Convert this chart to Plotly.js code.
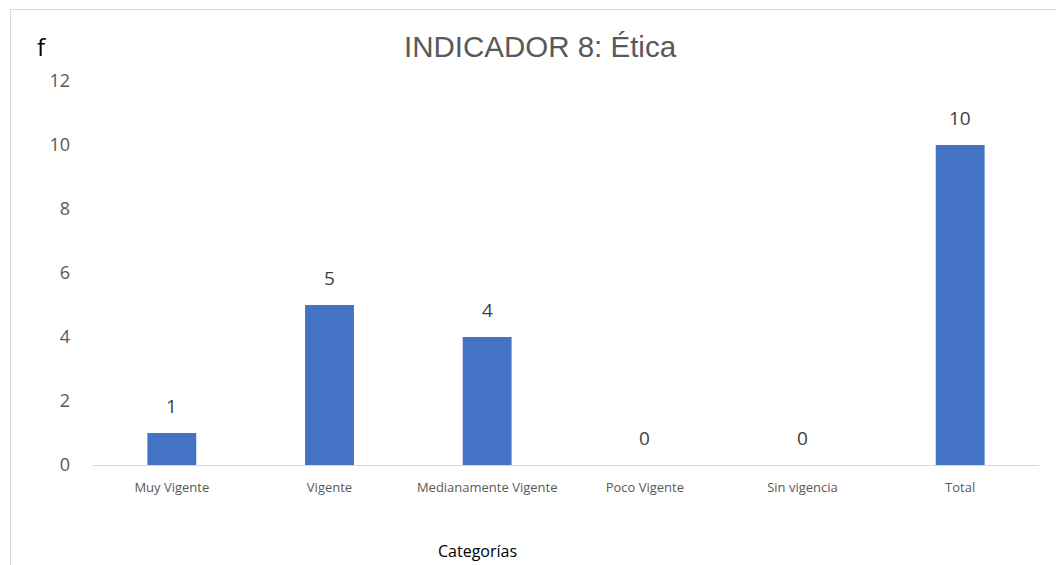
<!DOCTYPE html>
<html>
<head>
<meta charset="utf-8">
<script src="https://cdn.plot.ly/plotly-3.0.1.min.js"></script>
<style>html,body{margin:0;padding:0;background:#fff;}#chart{width:1056px;height:565px;}</style>
</head>
<body>
<div id="chart"></div>
<script>
const categories = ["Muy Vigente", "Vigente", "Medianamente Vigente", "Poco Vigente", "Sin vigencia", "Total"];
const values = [1, 5, 4, 0, 0, 10];
const yTicks = [0, 2, 4, 6, 8, 10, 12];
const chartTitle = "INDICADOR 8: Ética";
const yLabel = "f";
const xLabel = "Categorías";

const W = 1056, H = 565;
const ml = 93, mr = 17, mt = 81, mb = 100;
const pw = W - ml - mr, ph = H - mt - mb;
const px = v => (v - ml) / pw;
const py = v => 1 - (v - mt) / ph;

const trace = {
  type: "bar",
  x: categories,
  y: values,
  marker: {color: "#4472C4"},
  width: 0.31,
  hoverinfo: "x+y"
};

const labelAnns = categories.map((c, i) => ({
  x: c, y: values[i], xref: "x", yref: "y",
  text: String(values[i]), showarrow: false,
  yanchor: "bottom", yshift: 12,
  font: {family: "Open Sans, Noto Sans, sans-serif", size: 19, color: "#404040"}
}));

const layout = {
  width: W, height: H,
  margin: {l: ml, r: mr, t: mt, b: mb},
  paper_bgcolor: "#ffffff",
  plot_bgcolor: "#ffffff",
  showlegend: false,
  title: {
    text: chartTitle,
    xref: "container", yref: "container",
    x: 540 / W, y: 1 - 47 / H, xanchor: "center", yanchor: "middle",
    font: {family: "Liberation Sans, Arial, sans-serif", size: 29.5, color: "#595959"}
  },
  xaxis: {
    type: "category",
    showgrid: false, zeroline: false,
    showline: true, linecolor: "#d9d9d9", linewidth: 1,
    ticks: "", ticklen: 0,
    ticklabelstandoff: 10,
    tickfont: {family: "Open Sans, Noto Sans, sans-serif", size: 13, color: "#595959"},
    automargin: false
  },
  yaxis: {
    range: [0, 12],
    tickvals: yTicks,
    ticktext: yTicks.map(String),
    showgrid: false, zeroline: false, showline: false,
    ticks: "",
    ticklabelstandoff: 22,
    tickfont: {family: "Open Sans, Noto Sans, sans-serif", size: 18, color: "#595959"},
    automargin: false
  },
  annotations: labelAnns.concat([
    {xref: "paper", yref: "paper", x: px(42), y: py(47), text: yLabel, showarrow: false,
     xanchor: "center", yanchor: "middle",
     font: {family: "Open Sans, Noto Sans, sans-serif", size: 24, color: "#000000"}},
    {xref: "paper", yref: "paper", x: px(477), y: py(551), text: xLabel, showarrow: false,
     xanchor: "center", yanchor: "middle",
     font: {family: "Open Sans, Noto Sans, sans-serif", size: 16, color: "#000000"}}
  ]),
  shapes: [
    {type: "line", xref: "paper", yref: "paper", x0: px(10), x1: px(1056), y0: py(9.5), y1: py(9.5),
     line: {color: "#d9d9d9", width: 1}},
    {type: "line", xref: "paper", yref: "paper", x0: px(10.5), x1: px(10.5), y0: py(9), y1: py(566),
     line: {color: "#d9d9d9", width: 1}}
  ]
};

Plotly.newPlot("chart", [trace], layout, {displayModeBar: false, staticPlot: true});
</script>
</body>
</html>
